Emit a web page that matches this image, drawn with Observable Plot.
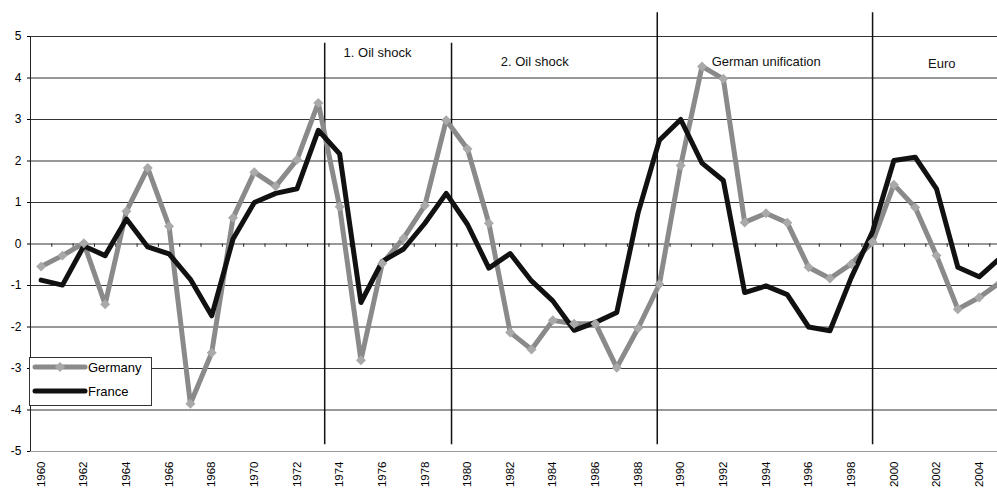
<!DOCTYPE html>
<html>
<head>
<meta charset="utf-8">
<script src="https://cdn.jsdelivr.net/npm/d3@7"></script>
<script src="https://cdn.jsdelivr.net/npm/@observablehq/plot@0.6"></script>
<style>
  html, body { margin: 0; padding: 0; background: #fff; overflow: hidden; }
  #chart { position: relative; width: 997px; height: 488px; font-family: "Liberation Sans", Arial, sans-serif; }
  #legend { position: absolute; left: 29px; top: 357px; width: 121px; height: 47px;
            border: 1px solid #333; background: #fff; font-size: 13px; }
  #legend .row { position: absolute; left: 2px; height: 16px; display: flex; align-items: center; }
  #legend svg { display: block; }
</style>
</head>
<body>
<div id="chart"></div>
<script>
// categories: one value per year, 1960-2005
const years = d3.range(1960, 2006);
const germany = [-0.54, -0.28, 0.02, -1.45, 0.79, 1.83, 0.43, -3.85, -2.62, 0.63,
  1.73, 1.39, 2.03, 3.40, 0.90, -2.80, -0.47, 0.14, 0.93, 2.98,
  2.29, 0.50, -2.13, -2.54, -1.84, -1.92, -1.92, -2.98, -2.03, -0.97,
  1.89, 4.28, 3.98, 0.52, 0.74, 0.51, -0.56, -0.83, -0.48, 0.05,
  1.43, 0.88, -0.28, -1.57, -1.29, -0.92];
const france = [-0.87, -0.99, -0.05, -0.28, 0.60, -0.07, -0.24, -0.85, -1.73, 0.12,
  1.00, 1.22, 1.33, 2.74, 2.17, -1.41, -0.42, -0.12, 0.50, 1.22,
  0.47, -0.58, -0.23, -0.89, -1.37, -2.08, -1.89, -1.65, 0.75, 2.50,
  3.00, 1.95, 1.53, -1.17, -1.01, -1.22, -2.00, -2.09, -0.81, 0.30,
  2.01, 2.09, 1.33, -0.56, -0.79, -0.33];

// events marked with vertical lines
const eventNames = ["1. Oil shock", "2. Oil shock", "German unification", "Euro"];
const eventYears = [1973.3, 1979.25, 1988.9, 1999.0];
const eventTops = [4.84, 4.84, 5.57, 5.57];
const labelYears = [1975.78, 1983.15, 1994.01, 2002.25];
const labelValues = [4.6, 4.38, 4.38, 4.34];

const yTicks = [5, 4, 3, 2, 1, 0, -1, -2, -3, -4, -5];
const xTickYears = years.filter(d => d % 2 === 0);

const rows = years.map((year, i) => ({ year, germany: germany[i], france: france[i] }));
const events = eventNames.map((name, i) => ({
  name, year: eventYears[i], top: eventTops[i], lx: labelYears[i], ly: labelValues[i]
}));
const boundaries = years.map(d => d - 0.5);

const p = Plot.plot({
  width: 997,
  height: 488,
  marginLeft: 30,
  marginRight: 0,
  marginTop: 36,
  marginBottom: 37,
  x: { domain: [1959.5, 2004.86] },
  y: { domain: [-5, 5] },
  style: { fontFamily: '"Liberation Sans", Arial, sans-serif', background: 'white', color: 'black', overflow: 'hidden' },
  marks: [
    Plot.ruleY(yTicks.filter(d => d > -5), { stroke: '#333', strokeWidth: 1 }),
    Plot.ruleY([-5], { stroke: '#999', strokeWidth: 1 }),
    Plot.ruleX([1959.5], { y1: -5, y2: 5, stroke: '#222', strokeWidth: 1 }),
    Plot.ruleX(boundaries, { y1: 0, y2: -0.08, stroke: '#222', strokeWidth: 1 }),
    Plot.axisY({ ticks: yTicks, tickSize: 3, tickPadding: 6, fontSize: 12, tickFormat: d => String(d), label: null }),
    Plot.axisX({ ticks: xTickYears, tickSize: 0, tickPadding: 10, tickRotate: -90, fontSize: 11.5,
      tickFormat: d => String(d), label: null }),
    Plot.ruleX(events, { x: 'year', y1: -4.84, y2: 'top', stroke: '#111', strokeWidth: 1.5 }),
    Plot.text(events, { x: 'lx', y: 'ly', text: 'name', fontSize: 13, fill: '#111' }),
    Plot.line(rows, { x: 'year', y: 'germany', stroke: '#8a8a8a', strokeWidth: 5, clip: true }),
    Plot.line(rows, { x: 'year', y: 'france', stroke: '#111', strokeWidth: 5, clip: true }),
    Plot.dot(rows, { x: 'year', y: 'germany', symbol: 'diamond2', r: 4.5, fill: '#a9a9a9', clip: true })
  ]
});

d3.select(p).attr('id', 'plot');
const chart = document.getElementById('chart');
chart.appendChild(p);

// legend inside the plot area, bottom left
const legend = d3.select(chart).append('div').attr('id', 'legend');
const items = [
  { name: 'Germany', color: '#8a8a8a', marker: '#a9a9a9' },
  { name: 'France', color: '#111', marker: null }
];
items.forEach((it, i) => {
  const row = legend.append('div').attr('class', 'row').style('top', (i === 0 ? 1 : 25) + 'px');
  const s = row.append('svg').attr('width', 56).attr('height', 14);
  s.append('line').attr('x1', 3).attr('x2', 53).attr('y1', 7).attr('y2', 7)
    .attr('stroke', it.color).attr('stroke-width', 5).attr('stroke-linecap', 'round');
  if (it.marker) {
    s.append('path').attr('d', 'M28,2L33,7L28,12L23,7Z').attr('fill', it.marker);
  }
  row.append('span').text(it.name);
});
</script>
</body>
</html>
